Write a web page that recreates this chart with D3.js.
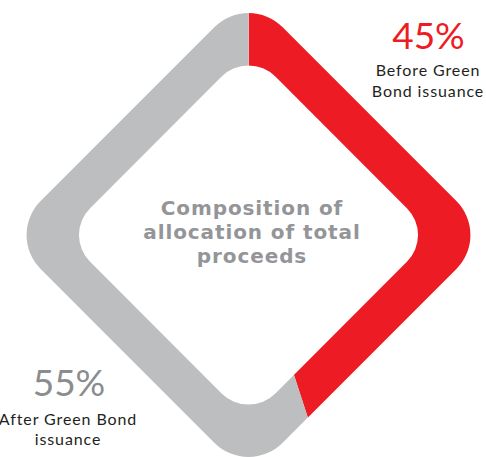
<!DOCTYPE html>
<html>
<head>
<meta charset="utf-8">
<script src="https://cdn.jsdelivr.net/npm/d3@7"></script>
<style>
  html, body { margin: 0; padding: 0; background: #fff; }
  svg { display: block; }
</style>
</head>
<body>
<svg width="486" height="457"></svg>
<script>
// shares of total proceeds, clockwise from the top
const labels = ['Before Green Bond issuance', 'After Green Bond issuance'];
const values = [45, 55];
const colors = ['#ED1C24', '#BCBEC0'];
const centerTitle = ['Composition of', 'allocation of total', 'proceeds'];

init();

function init() {
    const svg = d3.select('svg');
    const cx = 248.5, cy = 235;

    // rounded square centred on 0,0 (half side a, corner radius r)
    function roundSquare(a, r) {
        const p = d3.path();
        p.moveTo(-a + r, -a);
        p.lineTo(a - r, -a);
        p.arcTo(a, -a, a, -a + r, r);
        p.lineTo(a, a - r);
        p.arcTo(a, a, a - r, a, r);
        p.lineTo(-a + r, a);
        p.arcTo(-a, a, -a, a - r, r);
        p.lineTo(-a, -a + r);
        p.arcTo(-a, -a, -a + r, -a, r);
        p.closePath();
        return p.toString();
    }
    const ring = roundSquare(171, 48) + roundSquare(131, 38);

    const pie = d3.pie().sort(null).value(d => d);
    const arcs = pie(values);
    const wedge = d3.arc().innerRadius(0).outerRadius(400);

    const defs = svg.append('defs');
    arcs.forEach((a, i) => {
        defs.append('clipPath').attr('id', 'slice-' + i)
            .append('path')
            .attr('d', wedge(a));
    });

    const g = svg.append('g').attr('transform', 'translate(' + cx + ',' + cy + ')');
    arcs.forEach((a, i) => {
        g.append('g')
            .attr('clip-path', 'url(#slice-' + i + ')')
            .append('path')
            .attr('d', ring)
            .attr('transform', 'rotate(45)')
            .attr('fill-rule', 'evenodd')
            .attr('fill', colors[i]);
    });

    const fmt = d3.format('.0f');

    // 45% label, top right
    svg.append('text')
        .attr('x', 428.5).attr('y', 49)
        .attr('text-anchor', 'middle')
        .style('font-family', 'Lato, sans-serif')
        .style('font-size', '37px')
        .attr('fill', colors[0])
        .text(fmt(values[0]) + '%');
    [['Before Green', 76], ['Bond issuance', 97]].forEach(d => {
        svg.append('text')
            .attr('x', 428).attr('y', d[1])
            .attr('text-anchor', 'middle')
            .style('font-family', 'Lato, sans-serif')
            .style('font-size', '16px')
            .style('letter-spacing', '0.9px')
            .attr('fill', '#231F20')
            .text(d[0]);
    });

    // 55% label, bottom left
    svg.append('text')
        .attr('x', 69).attr('y', 396)
        .attr('text-anchor', 'middle')
        .style('font-family', 'Lato, sans-serif')
        .style('font-size', '37px')
        .attr('fill', '#8A8C8E')
        .text(fmt(values[1]) + '%');
    [['After Green Bond', 425], ['issuance', 445]].forEach(d => {
        svg.append('text')
            .attr('x', 68).attr('y', d[1])
            .attr('text-anchor', 'middle')
            .style('font-family', 'Lato, sans-serif')
            .style('font-size', '16px')
            .style('letter-spacing', '0.9px')
            .attr('fill', '#231F20')
            .text(d[0]);
    });

    // centre title
    centerTitle.forEach((t, i) => {
        svg.append('text')
            .attr('x', 252).attr('y', 215 + i * 24)
            .attr('text-anchor', 'middle')
            .style('font-family', '"DejaVu Sans", sans-serif')
            .style('font-weight', 'bold')
            .style('font-size', '20px')
            .style('letter-spacing', '0.9px')
            .attr('fill', '#939598')
            .text(t);
    });
}
</script>
</body>
</html>
